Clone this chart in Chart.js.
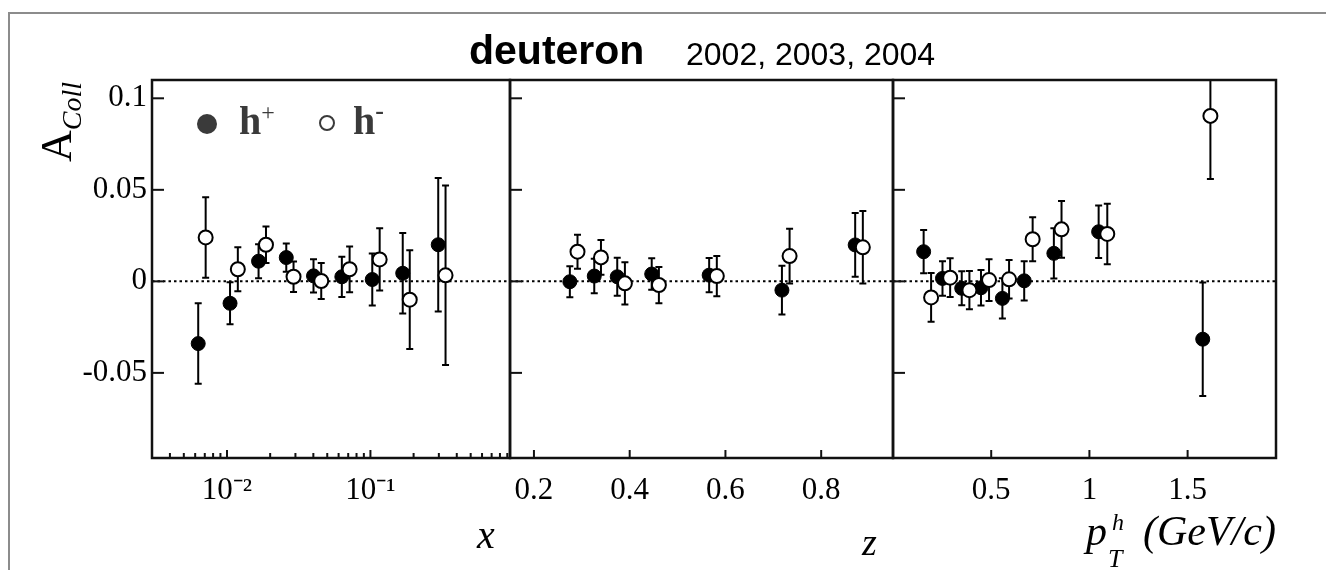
<!DOCTYPE html>
<html>
<head>
<meta charset="utf-8">
<script src="https://cdn.jsdelivr.net/npm/chart.js@4.4.0/dist/chart.umd.min.js"></script>
<style>
  body { margin: 0; background: #fff; width: 1326px; height: 570px; overflow: hidden; position: relative; font-family: "Liberation Serif", serif; }
  canvas { position: absolute; left: 0; top: 0; }
  .frame { position: absolute; left: 8px; top: 12px; width: 1340px; height: 600px; border-left: 2px solid #8c8c8c; border-top: 2px solid #8c8c8c; }
  .t { position: absolute; white-space: nowrap; line-height: 1; color: #000; }
  .sans { font-family: "Liberation Sans", Arial, sans-serif; }
  .it { font-style: italic; }
  .dot { position: absolute; border-radius: 50%; box-sizing: border-box; }
</style>
</head>
<body>
<div class="frame"></div>
<canvas id="cx" width="1326" height="570"></canvas>
<canvas id="cz" width="1326" height="570"></canvas>
<canvas id="cpt" width="1326" height="570"></canvas>

<div class="t sans" style="left:469px;top:30px;font-size:41px;font-weight:bold;">deuteron</div>
<div class="t sans" style="left:686px;top:38px;font-size:32px;">2002, 2003, 2004</div>

<div class="t" style="left:35px;top:162px;font-size:44px;transform-origin:0 0;transform:rotate(-90deg);">A<span class="it" style="font-size:28px;position:relative;top:10px;">Coll</span></div>

<div class="dot" style="left:197px;top:114px;width:20px;height:20px;background:#3a3a3a;"></div>
<div class="t" style="left:239px;top:101px;font-size:40px;font-weight:bold;color:#3a3a3a;">h<span style="font-size:24px;font-weight:normal;position:relative;top:-14px;">+</span></div>
<div class="dot" style="left:319px;top:115px;width:16px;height:16px;border:2px solid #3a3a3a;"></div>
<div class="t" style="left:353px;top:101px;font-size:40px;font-weight:bold;color:#3a3a3a;">h<span style="font-size:26px;position:relative;top:-15px;">-</span></div>

<div class="t it" style="left:477px;top:515px;font-size:40px;">x</div>
<div class="t it" style="left:862px;top:523px;font-size:38px;">z</div>
<div class="t it" style="left:1086px;top:510px;font-size:42px;">p</div>
<div class="t it" style="left:1112px;top:510px;font-size:24px;">h</div>
<div class="t it" style="left:1108px;top:546px;font-size:26px;">T</div>
<div class="t it" style="left:1143px;top:510px;font-size:42px;">(GeV/c)</div>

<script>
// y axis (A_Coll)
const yMin = -0.0965;
const yMax = 0.11;
const yTicks = [-0.05, 0, 0.05, 0.1];

// x panel (log scale)
const xTicks = [0.003, 0.004, 0.005, 0.006, 0.007, 0.008, 0.009, 0.01,
  0.02, 0.03, 0.04, 0.05, 0.06, 0.07, 0.08, 0.09, 0.1,
  0.2, 0.3, 0.4, 0.5, 0.6, 0.7, 0.8, 0.9];
const xTickLabels = { 0.01: "10\u207B\u00B2", 0.1: "10\u207B\u00B9" };
const xPlus = [0.0063, 0.0105, 0.0166, 0.0259, 0.0401, 0.0632, 0.103, 0.168, 0.297];
const xPlusA = [-0.034, -0.012, 0.011, 0.013, 0.003, 0.0025, 0.001, 0.0044, 0.020];
const xPlusErr = [0.022, 0.0115, 0.0093, 0.0077, 0.0091, 0.011, 0.0142, 0.022, 0.0365];
const xMinus = [0.0071, 0.0119, 0.0187, 0.0291, 0.0454, 0.0716, 0.116, 0.188, 0.334];
const xMinusA = [0.024, 0.0066, 0.020, 0.0025, 0.0002, 0.0066, 0.012, -0.010, 0.0033];
const xMinusErr = [0.022, 0.012, 0.010, 0.0083, 0.0098, 0.0125, 0.017, 0.027, 0.049];

// z panel
const zTicks = [0.2, 0.4, 0.6, 0.8];
const zPlus = [0.275, 0.326, 0.374, 0.446, 0.566, 0.718, 0.871];
const zPlusA = [-0.0002, 0.0029, 0.0025, 0.004, 0.0034, -0.0048, 0.0199];
const zPlusErr = [0.0085, 0.0094, 0.0104, 0.0086, 0.0093, 0.0133, 0.0174];
const zMinus = [0.291, 0.340, 0.390, 0.461, 0.582, 0.734, 0.887];
const zMinusA = [0.0162, 0.0131, -0.0011, -0.002, 0.0029, 0.0138, 0.0186];
const zMinusErr = [0.0093, 0.0095, 0.0115, 0.0099, 0.011, 0.015, 0.0198];

// pT panel
const ptTicks = [0.5, 1, 1.5];
const ptPlus = [0.156, 0.252, 0.350, 0.448, 0.557, 0.668, 0.819, 1.047, 1.577];
const ptPlusA = [0.0162, 0.0016, -0.0038, -0.0035, -0.0093, 0.0003, 0.0153, 0.0271, -0.0316];
const ptPlusErr = [0.0118, 0.0094, 0.0093, 0.0097, 0.011, 0.0107, 0.0137, 0.0144, 0.031];
const ptMinus = [0.194, 0.291, 0.389, 0.489, 0.591, 0.711, 0.858, 1.091, 1.616];
const ptMinusA = [-0.0088, 0.002, -0.0048, 0.0007, 0.0011, 0.023, 0.0284, 0.0259, 0.0904];
const ptMinusErr = [0.0133, 0.0106, 0.0105, 0.0114, 0.0105, 0.012, 0.0155, 0.0165, 0.0345];

const tickFont = { family: "Liberation Serif", size: 31 };

// error bars, zero line, frame and inward ticks
const panelDecor = {
  id: "panelDecor",
  beforeDatasetsDraw(chart) {
    const { ctx, chartArea: a } = chart;
    const x = chart.scales.x, y = chart.scales.y;
    ctx.save();
    ctx.beginPath();
    ctx.rect(a.left, a.top, a.right - a.left, a.bottom - a.top);
    ctx.clip();
    const y0 = y.getPixelForValue(0);
    ctx.strokeStyle = "#000";
    ctx.lineWidth = 2;
    ctx.setLineDash([2.5, 3]);
    ctx.beginPath();
    ctx.moveTo(a.left, y0);
    ctx.lineTo(a.right, y0);
    ctx.stroke();
    ctx.setLineDash([]);
    chart.data.datasets.forEach(function (ds) {
      ds.data.forEach(function (p, i) {
        const e = ds.err[i];
        const px = x.getPixelForValue(p.x);
        const yt = y.getPixelForValue(p.y + e);
        const yb = y.getPixelForValue(p.y - e);
        ctx.beginPath();
        ctx.moveTo(px, yt);
        ctx.lineTo(px, yb);
        ctx.moveTo(px - 3.5, yt);
        ctx.lineTo(px + 3.5, yt);
        ctx.moveTo(px - 3.5, yb);
        ctx.lineTo(px + 3.5, yb);
        ctx.stroke();
      });
    });
    ctx.restore();
  },
  afterDraw(chart) {
    const { ctx, chartArea: a } = chart;
    const x = chart.scales.x, y = chart.scales.y;
    ctx.save();
    ctx.strokeStyle = "#111";
    ctx.lineWidth = 2.5;
    ctx.strokeRect(a.left, a.top, a.right - a.left, a.bottom - a.top);
    ctx.lineWidth = 2;
    y.ticks.forEach(function (t) {
      const py = y.getPixelForValue(t.value);
      ctx.beginPath();
      ctx.moveTo(a.left, py);
      ctx.lineTo(a.left + 12, py);
      ctx.stroke();
    });
    x.ticks.forEach(function (t) {
      const px = x.getPixelForValue(t.value);
      const len = t.label ? 8 : 5;
      ctx.beginPath();
      ctx.moveTo(px, a.bottom);
      ctx.lineTo(px, a.bottom - len);
      ctx.stroke();
    });
    ctx.restore();
  },
};

function makePanel(id, left, right, xScale, plus, plusA, plusErr, minus, minusA, minusErr, showY) {
  const ctx = document.getElementById(id).getContext("2d");
  return new Chart(ctx, {
    type: "scatter",
    data: {
      datasets: [
        {
          label: "h-",
          data: minus.map((v, i) => ({ x: v, y: minusA[i] })),
          err: minusErr,
          pointRadius: 7,
          pointBackgroundColor: "#fff",
          pointBorderColor: "#000",
          pointBorderWidth: 2,
        },
        {
          label: "h+",
          data: plus.map((v, i) => ({ x: v, y: plusA[i] })),
          err: plusErr,
          pointRadius: 7,
          pointBackgroundColor: "#000",
          pointBorderColor: "#000",
          pointBorderWidth: 1,
        },
      ],
    },
    options: {
      responsive: false,
      animation: false,
      layout: { padding: { left: showY ? 0 : left, right: 1326 - right, top: 80, bottom: 0 } },
      plugins: { legend: { display: false }, tooltip: { enabled: false } },
      scales: {
        x: Object.assign(
          {
            position: "bottom",
            grid: { display: false, drawTicks: false },
            border: { display: false },
            afterFit: (s) => { s.height = 112; },
          },
          xScale
        ),
        y: {
          type: "linear",
          min: yMin,
          max: yMax,
          grid: { display: false, drawTicks: false },
          border: { display: false },
          afterBuildTicks: (s) => { s.ticks = yTicks.map((v) => ({ value: v })); },
          afterFit: (s) => { s.width = showY ? left : 0; },
          ticks: {
            display: showY,
            padding: 5,
            color: "#000",
            font: tickFont,
            callback: (v) => (v === 0 ? "0" : String(v)),
          },
        },
      },
    },
    plugins: [panelDecor],
  });
}

makePanel("cx", 152, 510, {
  type: "logarithmic",
  min: 0.003,
  max: 0.94,
  afterBuildTicks: (s) => { s.ticks = xTicks.map((v) => ({ value: v })); },
  ticks: {
    autoSkip: false, maxRotation: 0, padding: 14, color: "#000", font: tickFont,
    callback: (v) => xTickLabels[v] || "",
  },
}, xPlus, xPlusA, xPlusErr, xMinus, xMinusA, xMinusErr, true);

makePanel("cz", 510, 893, {
  type: "linear",
  min: 0.15,
  max: 0.95,
  afterBuildTicks: (s) => { s.ticks = zTicks.map((v) => ({ value: v })); },
  ticks: {
    autoSkip: false, maxRotation: 0, padding: 14, color: "#000", font: tickFont,
    callback: (v) => String(v),
  },
}, zPlus, zPlusA, zPlusErr, zMinus, zMinusA, zMinusErr, false);

makePanel("cpt", 893, 1276, {
  type: "linear",
  min: 0,
  max: 1.95,
  afterBuildTicks: (s) => { s.ticks = ptTicks.map((v) => ({ value: v })); },
  ticks: {
    autoSkip: false, maxRotation: 0, padding: 14, color: "#000", font: tickFont,
    callback: (v) => String(v),
  },
}, ptPlus, ptPlusA, ptPlusErr, ptMinus, ptMinusA, ptMinusErr, false);
</script>
</body>
</html>
